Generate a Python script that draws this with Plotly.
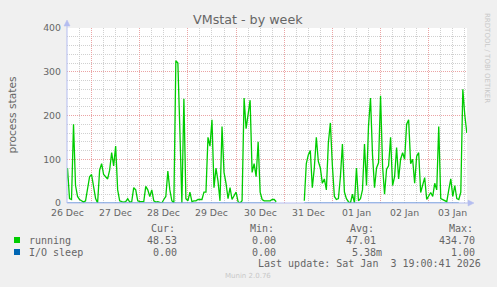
import plotly.graph_objects as go
import pandas as pd

# ---------------- data ----------------
title = "VMstat - by week"
y_label = "process states"
start_time = "2025-12-26 11:00"   # first hourly sample
range_start = "2025-12-26 11:45"
range_end = "2026-01-03 19:05"

running = [
    20, 80, 10, 8, 180, 40, 15, 8, 5, 2,
    5, 35, 60, 65, 40, 10, 0, 75, 90, 65,
    60, 55, 75, 115, 85, 130, 30, 5, 3, 2,
    3, 10, 2, 3, 35, 30, 5, 3, 3, 3,
    38, 30, 15, 30, 5, 2, 3, 2, 0, 8,
    15, 73, 30, 5, 0, 325, 320, 165, 0, 238,
    10, 5, 25, 3, 5, 5, 8, 8, 8, 25,
    25, 150, 130, 190, 35, 80, 50, 5, 175, 70,
    45, 10, 35, 8, 15, 25, 3, 0, 5, 240,
    170, 200, 235, 70, 90, 60, 140, 25, 8, 5,
    5, 5, 5, 8, 8, 3, None, None, None, None,
    None, None, None, None, None, None, None, None, None, 5,
    90, 110, 120, 35, 80, 150, 95, 80, 45, 55,
    30, 138, 183, 85, 15, 8, 10, 60, 135, 25,
    10, 3, 0, 20, 0, 80, 5, 10, 30, 135,
    40, 176, 240, 110, 35, 80, 92, 245, 85, 20,
    77, 85, 150, 40, 60, 127, 55, 100, 115, 100,
    180, 190, 90, 100, 45, 107, 115, 24, 40, 58,
    8, 15, 24, 15, 45, 30, 175, 10, 8, 5,
    3, 30, 55, 15, 40, 10, 8, 25, 260, 200,
    160,
]
io_sleep = [
    0, 0, 0, 0, 0, 0, 0, 0, 0, 0, 0, 0, 0, 0, 0, 0, 0, 0, 0, 0,
    0, 0, 0, 0, 0, 0, 0, 0, 0, 0, 0, 0, 0, 0, 0, 0, 0, 0, 0, 0,
    0, 0, 0, 0, 0, 0, 0, 0, 0, 0, 0, 0, 0, 0, 0, 0, 0, 0, 0, 0,
    0, 0, 0, 0, 0, 0, 0, 0, 0, 0, 0, 0, 0, 0, 0, 0, 0, 0, 0, 0,
    0, 0, 0, 0, 0, 0, 0, 0, 0, 0, 0, 0, 0, 0, 0, 0, 0, 0, 0, 0,
    0, 0, 0, 0, 0, 0, None, None, None, None, None, None, None, None, None, None,
    None, None, None, 0, 0, 0, 0, 0, 0, 0, 0, 0, 0, 0, 0, 0, 0, 0, 0, 0,
    0, 0, 0, 0, 0, 0, 0, 0, 0, 0, 0, 0, 0, 0, 0, 0, 0, 0, 0, 0,
    0, 0, 0, 0, 0, 0, 0, 0, 0, 0, 0, 0, 0, 0, 0, 0, 0, 0, 0, 0,
    0, 0, 0, 0, 0, 0, 0, 0, 0, 0, 0, 0, 0, 0, 0, 0, 0, 0, 0, 0,
    0,
]

day_labels = ["26 Dec", "27 Dec", "28 Dec", "29 Dec", "30 Dec",
              "31 Dec", "01 Jan", "02 Jan", "03 Jan"]
label_noons = ["2025-12-26 12:00", "2025-12-27 12:00", "2025-12-28 12:00",
               "2025-12-29 12:00", "2025-12-30 12:00", "2025-12-31 12:00",
               "2026-01-01 12:00", "2026-01-02 12:00", "2026-01-03 12:00"]
midnights = ["2025-12-27", "2025-12-28", "2025-12-29", "2025-12-30",
             "2025-12-31", "2026-01-01", "2026-01-02", "2026-01-03"]
y_ticks = [0, 100, 200, 300, 400]
y_minor = [20, 40, 60, 80, 120, 140, 160, 180, 220, 240, 260, 280,
           320, 340, 360, 380]

series_names = ["running", "I/O sleep"]
series_colors = ["#00CC00", "#0066B3"]
stat_headers = ["Cur:", "Min:", "Avg:", "Max:"]
stats = [["48.53", "0.00", "47.01", "434.70"],
         ["0.00", "0.00", "5.38m", "1.00"]]
last_update = "Last update: Sat Jan  3 19:00:41 2026"
rrd_credit = "RRDTOOL / TOBI OETIKER"
munin_version = "Munin 2.0.76"

# ---------------- layout geometry ----------------
W, H = 497, 287
L, R, T, B = 67, 467, 28, 203


def px(x):
    return (x - L) / (R - L)


def py(y):
    return (B - y) / (B - T)


FONT = "DejaVu Sans"
MONO = "DejaVu Sans Mono"
TXT = "#666666"
AXIS = "#b4bdf0"
GRID = "#d0d0d0"
MGRID = "#eba4a4"
DASH = "1px,1px"

times = pd.date_range(start_time, periods=len(running), freq="h")
minor_vals = [t for t in pd.date_range("2025-12-26 12:00", "2026-01-03 18:00", freq="6h")
              if t.hour != 0]

fig = go.Figure()
fig.add_trace(go.Scatter(x=times, y=running, mode="lines",
                         line=dict(color=series_colors[0], width=1.3),
                         connectgaps=False, hoverinfo="skip"))
fig.add_trace(go.Scatter(x=times, y=io_sleep, mode="lines",
                         line=dict(color=series_colors[1], width=1),
                         connectgaps=False, hoverinfo="skip"))

shapes = []
# axes with arrows
shapes.append(dict(type="line", xref="paper", yref="paper", x0=px(L), x1=px(470),
                   y0=0, y1=0, line=dict(color=AXIS, width=1), layer="above"))
shapes.append(dict(type="line", xref="paper", yref="paper", x0=0, x1=0,
                   y0=0, y1=py(24), line=dict(color=AXIS, width=1), layer="above"))
shapes.append(dict(type="path", xref="paper", yref="paper",
                   path=f"M {px(468)} {py(200)} L {px(474)} {py(203)} L {px(468)} {py(206)} Z",
                   fillcolor=AXIS, line=dict(color=AXIS, width=0.5), layer="above"))
shapes.append(dict(type="path", xref="paper", yref="paper",
                   path=f"M {px(64)} {py(26)} L {px(67)} {py(20)} L {px(70)} {py(26)} Z",
                   fillcolor=AXIS, line=dict(color=AXIS, width=0.5), layer="above"))
# legend swatches
for k, col in enumerate(series_colors):
    yc = 240 + 12 * k
    shapes.append(dict(type="rect", xref="paper", yref="paper",
                       x0=px(14), x1=px(20), y0=py(yc - 3), y1=py(yc + 3),
                       fillcolor=col, line=dict(width=0)))

ann = []


def text(s, x, y, size, color=TXT, family=FONT, xanchor="center", angle=0):
    ann.append(dict(text=s, x=px(x), y=py(y), xref="paper", yref="paper",
                    showarrow=False, xanchor=xanchor, yanchor="middle",
                    textangle=angle, font=dict(family=family, size=size, color=color)))


# day labels centred on noon, placed through the x data scale
for lab, t in zip(day_labels, label_noons):
    ann.append(dict(text=lab, x=t, xref="x", y=py(212.7), yref="paper",
                    showarrow=False, xanchor="center", yanchor="middle",
                    font=dict(family=FONT, size=9.33, color=TXT)))

text(title, 248, 19, 12.7)
text(y_label, 11.5, 114, 10.7, angle=-90)
text(rrd_credit, 487, 58, 7, color="#c8c8c8", angle=90)

header_x = [149.3, 248.3, 347.7, 446.7]
value_right = [179, 278, 378, 477]
for h, hx in zip(stat_headers, header_x):
    text(h, hx, 228, 10, family=MONO, xanchor="left")
for k, name in enumerate(series_names):
    yc = 240 + 12 * k
    text(name, 26.7, yc, 10, family=MONO, xanchor="left")
    for j, v in enumerate(stats[k]):
        xr = value_right[j] + (6 if v.endswith("m") else 0)
        text(v, xr, yc, 10, family=MONO, xanchor="right")
text(last_update, 483, 263.5, 10, family=MONO, xanchor="right")
text(munin_version, 248, 276, 7, color="#c8c8c8")

fig.update_layout(
    width=W, height=H,
    margin=dict(l=L, r=W - R, t=T, b=H - B, pad=0),
    paper_bgcolor="#F0F0F0", plot_bgcolor="#FFFFFF",
    showlegend=False,
    shapes=shapes, annotations=ann,
    font=dict(family=FONT, color=TXT),
)
fig.update_xaxes(
    type="date", range=[range_start, range_end],
    tickmode="array", tickvals=midnights, showticklabels=False,
    showgrid=True, gridcolor=MGRID, griddash=DASH, gridwidth=1,
    ticks="", showline=False, zeroline=False,
    minor=dict(tickmode="array", tickvals=minor_vals, showgrid=True,
               gridcolor=GRID, griddash=DASH, gridwidth=1, ticks=""),
    fixedrange=True,
)
fig.update_yaxes(
    range=[0, 400], tickmode="array", tickvals=y_ticks,
    tickfont=dict(family=FONT, size=9.33, color=TXT),
    showgrid=True, gridcolor=MGRID, griddash=DASH, gridwidth=1,
    ticks="", showline=False, zeroline=False, ticklabelstandoff=5,
    minor=dict(tickmode="array", tickvals=y_minor, showgrid=True,
               gridcolor=GRID, griddash=DASH, gridwidth=1, ticks=""),
    fixedrange=True,
)

fig.write_html("out.html", config={"displayModeBar": False})
